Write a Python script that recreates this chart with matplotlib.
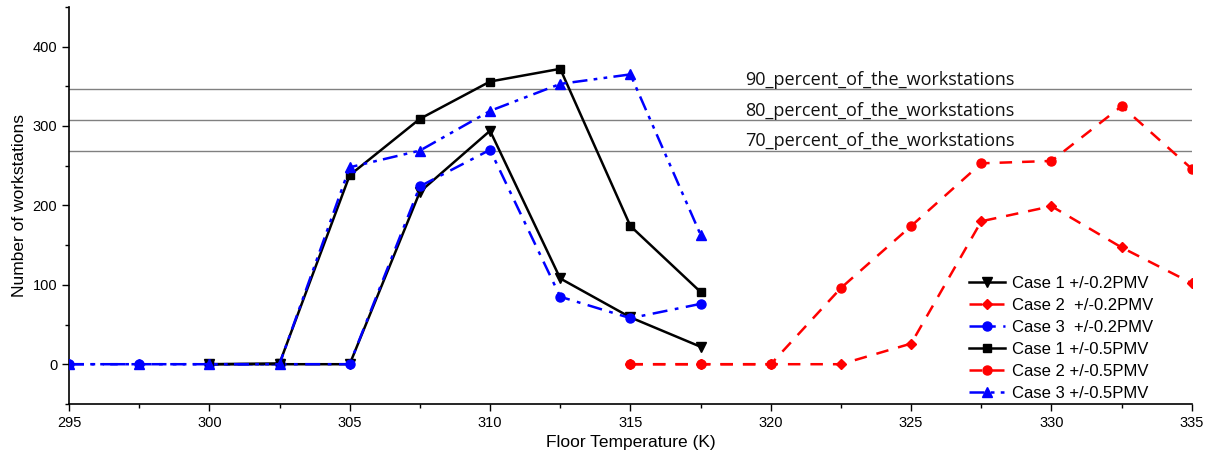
import matplotlib.pyplot as plt
import numpy as np

# ---- data ----
t_c1_02 = [300, 302.5, 305, 307.5, 310, 312.5, 315, 317.5]
c1_02 = [0, 0, 0, 217, 294, 108, 59, 22]

t_c2_02 = [315, 317.5, 320, 322.5, 325, 327.5, 330, 332.5, 335]
c2_02 = [0, 0, 0, 0, 26, 180, 199, 147, 102]

t_c3_02 = [295, 297.5, 300, 302.5, 305, 307.5, 310, 312.5, 315, 317.5]
c3_02 = [0, 0, 0, 0, 0, 224, 270, 85, 58, 76]

t_c1_05 = [300, 302.5, 305, 307.5, 310, 312.5, 315, 317.5]
c1_05 = [0, 1, 238, 309, 356, 372, 174, 91]

t_c2_05 = [315, 317.5, 320, 322.5, 325, 327.5, 330, 332.5, 335]
c2_05 = [0, 0, 0, 96, 174, 253, 256, 325, 246]

t_c3_05 = [295, 297.5, 300, 302.5, 305, 307.5, 310, 312.5, 315, 317.5]
c3_05 = [0, 0, 0, 0, 248, 269, 319, 353, 365, 163]

ref_levels = [346, 307, 269]
ref_labels = ['90_percent_of_the_workstations',
              '80_percent_of_the_workstations',
              '70_percent_of_the_workstations']

plt.rcParams['font.family'] = 'Liberation Sans'

fig = plt.figure(figsize=(12.1, 4.59), dpi=100)
ax = fig.add_axes([0.057, 0.12, 0.928, 0.865])

# reference lines
for lvl, lab in zip(ref_levels, ref_labels):
    ax.axhline(lvl, color='#808080', lw=1.0, zorder=1)
    ax.text(319.1, lvl + 1, lab, fontsize=13, family='Open Sans',
            va='bottom', ha='left', color='#111111')

lw = 1.8
ms = 6.5
ax.plot(t_c1_02, c1_02, color='black', lw=lw, marker='v', ms=ms,
        label='Case 1 +/-0.2PMV', zorder=3)
ax.plot(t_c2_02, c2_02, color='#ff0000', lw=lw, ls=(0, (5, 4)), marker='D', ms=5,
        label='Case 2  +/-0.2PMV', zorder=3)
ax.plot(t_c3_02, c3_02, color='#0000ff', lw=lw, ls=(0, (6, 3, 1.5, 3)), marker='o', ms=ms,
        label='Case 3  +/-0.2PMV', zorder=3)
ax.plot(t_c1_05, c1_05, color='black', lw=lw, marker='s', ms=5.5,
        label='Case 1 +/-0.5PMV', zorder=3)
ax.plot(t_c2_05, c2_05, color='#ff0000', lw=lw, ls=(0, (5, 4)), marker='o', ms=ms,
        label='Case 2 +/-0.5PMV', zorder=3)
ax.plot(t_c3_05, c3_05, color='#0000ff', lw=lw, ls=(0, (6, 2.5, 1.5, 2.5, 1.5, 2.5)), marker='^', ms=ms,
        label='Case 3 +/-0.5PMV', zorder=3)

ax.set_xlim(295, 335)
ax.set_ylim(-50, 450)
ax.set_xticks(np.arange(295, 336, 5))
ax.set_xticks(np.arange(295, 336, 2.5), minor=True)
ax.set_yticks([0, 100, 200, 300, 400])
ax.set_yticks(np.arange(-50, 451, 50), minor=True)
ax.tick_params(labelsize=10.5, direction='out', length=5, width=1)
ax.tick_params(which='minor', length=3, width=1)
ax.spines['top'].set_visible(False)
ax.spines['right'].set_visible(False)
ax.spines['left'].set_linewidth(1.2)
ax.spines['bottom'].set_linewidth(1.2)

ax.set_xlabel('Floor Temperature (K)', fontsize=12.5)
ax.set_ylabel('Number of workstations', fontsize=12.5)

ax.legend(loc='lower right', bbox_to_anchor=(0.979, -0.03), frameon=False,
          fontsize=12, handlelength=2.2, labelspacing=0.42, handletextpad=0.4)

fig.savefig('out.png', dpi=100)
